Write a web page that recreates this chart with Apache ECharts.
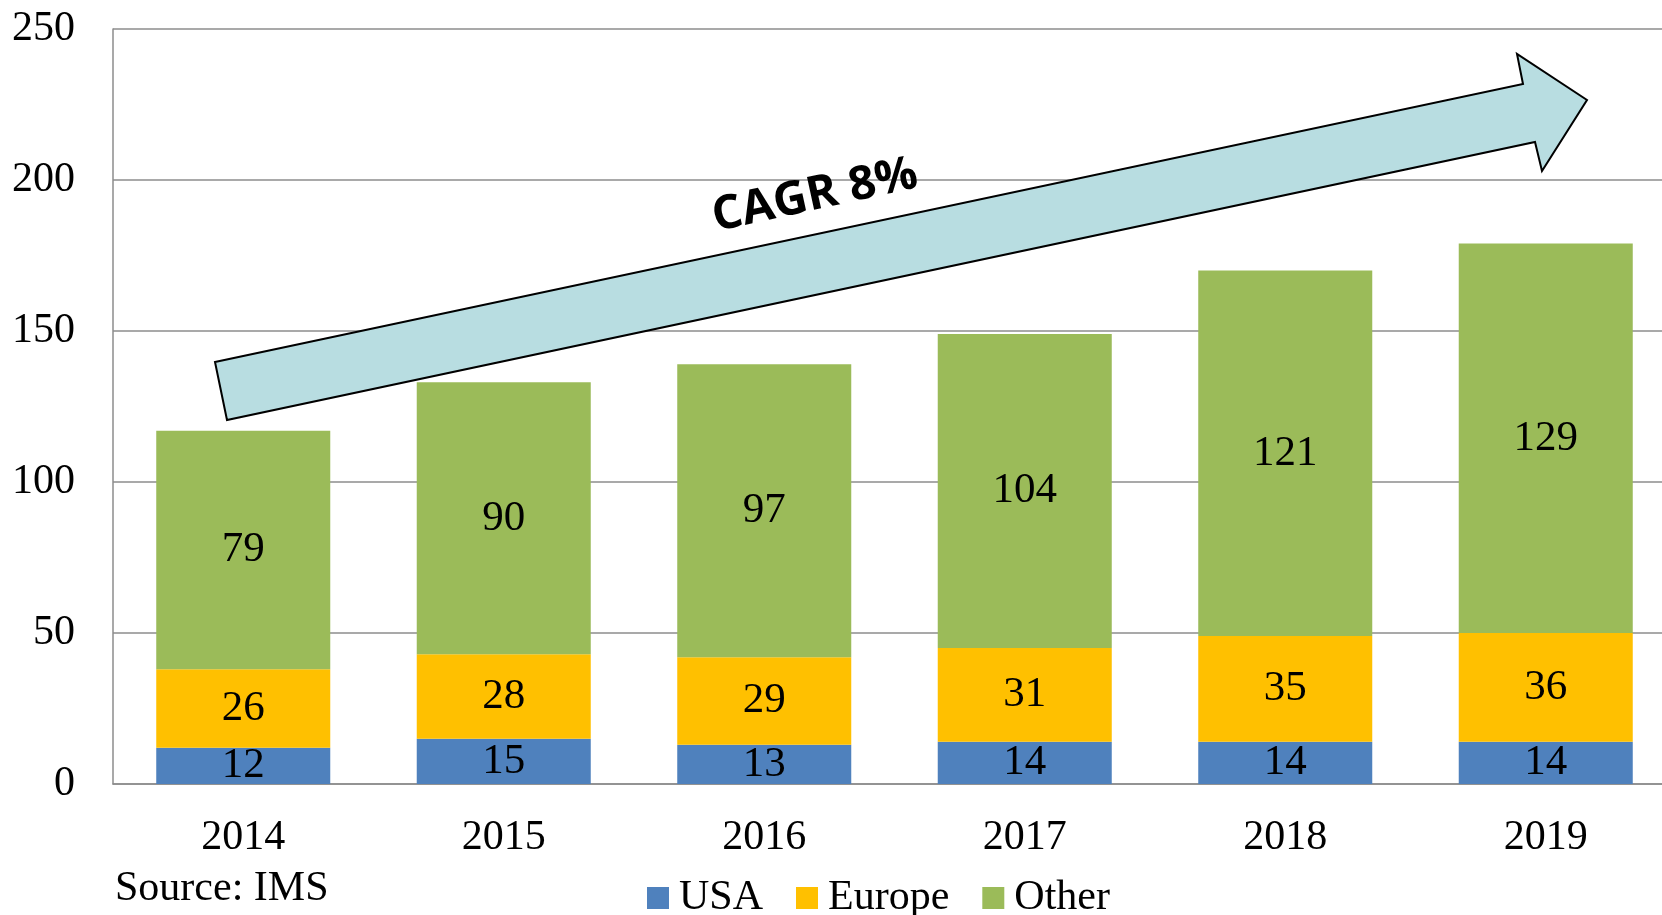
<!DOCTYPE html>
<html>
<head>
<meta charset="utf-8">
<script src="https://cdn.jsdelivr.net/npm/echarts@6/dist/echarts.min.js"></script>
<style>
html,body{margin:0;padding:0;background:#fff;overflow:hidden;width:1662px;height:915px;}
#c{width:1676px;height:915px;}
</style>
</head>
<body>
<div id="c"></div>
<script>
const categories = ['2014','2015','2016','2017','2018','2019'];
const usa = [12, 15, 13, 14, 14, 14];
const europe = [26, 28, 29, 31, 35, 36];
const other = [79, 90, 97, 104, 121, 129];
const yTicks = [0, 50, 100, 150, 200, 250];
const annotationText = 'CAGR 8%';
const sourceText = 'Source: IMS';

const serif = '"Liberation Serif","Times New Roman",serif';
const labelStyle = {show:true, position:'inside', color:'#000', fontFamily:serif, fontSize:43};

const chart = echarts.init(document.getElementById('c'), null, {renderer:'canvas'});
chart.setOption({
  animation:false,
  backgroundColor:'#fff',
  grid:{left:113, right:0, top:29, bottom:131, containLabel:false},
  legend:{
    data:['USA','Europe','Other'],
    left:647, top:877, padding:0,
    itemWidth:22, itemHeight:22, itemGap:33,
    icon:'rect',
    textStyle:{fontFamily:serif, fontSize:42, color:'#000', padding:[0,0,0,5]}
  },
  xAxis:{
    type:'category', data:categories,
    axisLine:{show:true, lineStyle:{color:'#8c8c8c', width:1.5}},
    axisTick:{show:false},
    axisLabel:{fontFamily:serif, fontSize:42, color:'#000', margin:33}
  },
  yAxis:{
    type:'value', min:yTicks[0], max:yTicks[yTicks.length-1], interval:50,
    axisLine:{show:true, lineStyle:{color:'#8c8c8c', width:1.5}},
    axisTick:{show:false},
    splitLine:{lineStyle:{color:'#8c8c8c', width:1.5}},
    axisLabel:{fontFamily:serif, fontSize:42, color:'#000', margin:38, padding:[4,0,0,0]}
  },
  series:[
    {name:'USA', type:'bar', stack:'t', data:usa, barCategoryGap:'33.2%', itemStyle:{color:'#4F81BD'}, label:labelStyle},
    {name:'Europe', type:'bar', stack:'t', data:europe, itemStyle:{color:'#FFC000'}, label:labelStyle},
    {name:'Other', type:'bar', stack:'t', data:other, itemStyle:{color:'#9BBB59'}, label:labelStyle}
  ],
  graphic:[
    {
      type:'polygon', z:100,
      shape:{points:[[215,362],[1523,84],[1517,54],[1587,100],[1542,171],[1535,142],[227,420]]},
      style:{fill:'#B8DDE1', stroke:'#000', lineWidth:2}
    },
    {
      type:'text', z:101, x:815, y:196, rotation:0.215, originX:0, originY:0,
      style:{text:annotationText, fill:'#000', font:'bold 47px "Open Sans", sans-serif', align:'center', verticalAlign:'middle'}
    },
    {
      type:'text', z:101, x:115, y:889,
      style:{text:sourceText, fill:'#000', font:'42px "Liberation Serif", serif', align:'left', verticalAlign:'middle'}
    }
  ]
});
</script>
</body>
</html>
